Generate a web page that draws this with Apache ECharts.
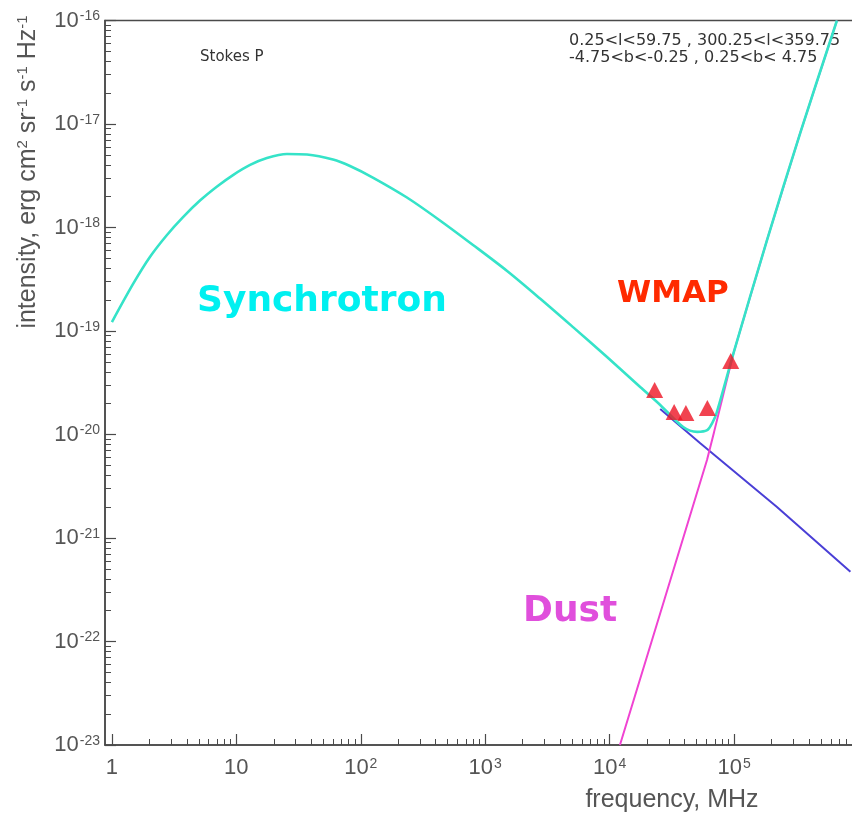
<!DOCTYPE html>
<html>
<head>
<meta charset="utf-8">
<script src="https://cdn.jsdelivr.net/npm/echarts@6/dist/echarts.min.js"></script>
<style>
  html, body { margin: 0; padding: 0; background: #ffffff; }
  #chart { width: 852px; height: 819px; }
</style>
</head>
<body>
<div id="chart"></div>
<script>
// Polarized (Stokes P) spectrum, frequency in MHz, intensity in erg cm^-2 sr^-1 s^-1 Hz^-1

// Total model: synchrotron + dust
const totalFreq = [1, 1.48, 2.02, 2.77, 3.73, 5.1, 7.0, 9.4, 12.9, 17.6, 25.5, 37, 59.8, 81.9,
  125, 235, 433, 798, 1500, 2757, 5080, 9530, 1.76e4, 2.55e4, 3.9e4, 5.05e4, 6.08e4, 6.67e4,
  7.23e4, 9.9e4, 1.84e5, 3.4e5, 6.71e5];
const totalInt = [1.22e-19, 2.85e-19, 5.19e-19, 8.47e-19, 1.26e-18, 1.82e-18, 2.49e-18, 3.21e-18,
  4.02e-18, 4.69e-18, 5.13e-18, 5.07e-18, 4.54e-18, 3.93e-18, 3.04e-18, 1.95e-18, 1.17e-18,
  6.78e-19, 3.80e-19, 2.06e-19, 1.09e-19, 5.61e-20, 2.88e-20, 1.93e-20, 1.18e-20, 1.06e-20,
  1.10e-20, 1.29e-20, 1.61e-20, 6.12e-20, 7.57e-19, 8.18e-18, 1.0e-16];

// Synchrotron power law above ~20 GHz
const syncFreq = [2.55e4, 5.35e4, 2.2e5, 8.61e5];
const syncInt = [1.76e-20, 8.22e-21, 2.0e-21, 4.72e-22];

// Thermal dust
const dustFreq = [1.21e4, 2.78e4, 6.06e4, 6.91e4, 9.9e4, 1.84e5, 3.4e5, 6.71e5];
const dustInt = [1.0e-23, 2.63e-22, 5.68e-21, 1.06e-20, 6.12e-20, 7.57e-19, 8.18e-18, 1.0e-16];

// WMAP band measurements (23, 33, 41, 61, 94 GHz)
const wmapFreq = [2.3e4, 3.3e4, 4.1e4, 6.1e4, 9.4e4];
const wmapInt = [2.69e-20, 1.65e-20, 1.61e-20, 1.80e-20, 5.13e-20];

// Axis ticks and labels
const xMajor = [1, 10, 100, 1e3, 1e4, 1e5, 1e6];
const xLabelValues = [1, 10, 100, 1e3, 1e4, 1e5];
const yMajor = [1e-23, 1e-22, 1e-21, 1e-20, 1e-19, 1e-18, 1e-17, 1e-16];

function minorTicks(majors) {
  const out = [];
  for (let i = 0; i < majors.length; i++) {
    for (let m = 2; m <= 9; m++) out.push(majors[i] * m);
  }
  return out;
}
function pairs(xs, ys) { return xs.map((x, i) => [x, ys[i]]); }

const axisGray = '#4a4a4a';
const textGray = '#555555';
const labelFont = 'Liberation Sans';

const labelRich = {
  b: { fontSize: 22, color: textGray, fontFamily: labelFont },
  s: { fontSize: 14, color: textGray, fontFamily: labelFont, verticalAlign: 'top', padding: [0, 0, 0, 1] }
};

function xLabel(v) {
  const e = Math.round(Math.log10(v));
  if (e === 0) return '{b|1}';
  if (e === 1) return '{b|10}';
  return '{b|10}{s|' + e + '}';
}
function yLabel(v) {
  const e = Math.round(Math.log10(v));
  return '{b|10}{s|' + e + '}';
}

const X_MIN = 0.88, X_MAX = 1e6, Y_MIN = 1e-23, Y_MAX = 1e-16;

const chart = echarts.init(document.getElementById('chart'), null, { renderer: 'canvas' });

const option = {
  backgroundColor: '#ffffff',
  animation: false,
  grid: {
    left: 105, top: 20.5, width: 753.5, height: 724.5,
    show: true, borderColor: axisGray, borderWidth: 1.5,
    containLabel: false, outerBoundsMode: 'none'
  },
  xAxis: [
    {
      type: 'log', logBase: 10, min: X_MIN, max: X_MAX, position: 'bottom',
      axisLine: { show: true, lineStyle: { color: axisGray, width: 1.5 } },
      axisTick: { show: true, inside: true, length: 11, customValues: xMajor, lineStyle: { color: axisGray, width: 1.2 } },
      axisLabel: { show: true, customValues: xLabelValues, margin: 12, formatter: xLabel, rich: labelRich },
      splitLine: { show: false }, minorTick: { show: false }
    },
    {
      type: 'log', logBase: 10, min: X_MIN, max: X_MAX, position: 'bottom',
      axisLine: { show: false },
      axisTick: { show: true, inside: true, length: 6, customValues: minorTicks([1, 10, 100, 1e3, 1e4, 1e5]), lineStyle: { color: axisGray, width: 1 } },
      axisLabel: { show: false },
      splitLine: { show: false }
    }
  ],
  yAxis: [
    {
      type: 'log', logBase: 10, min: Y_MIN, max: Y_MAX, position: 'left',
      axisLine: { show: true, lineStyle: { color: axisGray, width: 1.5 } },
      axisTick: { show: true, inside: true, length: 11, customValues: yMajor, lineStyle: { color: axisGray, width: 1.2 } },
      axisLabel: { show: true, customValues: yMajor, margin: 5, formatter: yLabel, rich: labelRich },
      splitLine: { show: false }
    },
    {
      type: 'log', logBase: 10, min: Y_MIN, max: Y_MAX, position: 'left',
      axisLine: { show: false },
      axisTick: { show: true, inside: true, length: 6, customValues: minorTicks(yMajor.slice(0, 7)), lineStyle: { color: axisGray, width: 1 } },
      axisLabel: { show: false },
      splitLine: { show: false }
    }
  ],
  graphic: [
    {
      type: 'text', left: 200, top: 50,
      style: { text: 'Stokes P', font: '15px "DejaVu Sans"', fill: '#333333' }
    },
    {
      type: 'text', left: 569, top: 32,
      style: {
        text: '0.25<l<59.75 , 300.25<l<359.75\n-4.75<b<-0.25 , 0.25<b< 4.75',
        font: '16px "DejaVu Sans"', fill: '#333333', lineHeight: 17
      }
    },
    {
      type: 'text', left: 197, top: 284,
      style: { text: 'Synchrotron', font: 'bold 36px "DejaVu Sans"', fill: '#00f0f0' }
    },
    {
      type: 'text', left: 617, top: 278,
      style: { text: 'WMAP', font: 'bold 31px "DejaVu Sans"', fill: '#ff2a00' }
    },
    {
      type: 'text', left: 523, top: 594,
      style: { text: 'Dust', font: 'bold 36px "DejaVu Sans"', fill: '#e04fdc' }
    },
    {
      type: 'text', x: 672, y: 800,
      style: {
        text: 'frequency, MHz', font: '25px "Liberation Sans"', fill: textGray,
        align: 'center', verticalAlign: 'middle'
      }
    },
    {
      type: 'text', x: 28, y: 172, rotation: Math.PI / 2,
      style: {
        text: '{a|intensity, erg cm}{s|2}{a| sr}{s|-1}{a| s}{s|-1}{a| Hz}{s|-1}',
        align: 'center', verticalAlign: 'middle',
        rich: {
          a: { fontSize: 25, fontFamily: labelFont, fill: textGray },
          s: { fontSize: 15, fontFamily: labelFont, fill: textGray, verticalAlign: 'top' }
        }
      }
    }
  ],
  series: [
    {
      name: 'Synchrotron component', type: 'line', xAxisIndex: 0, yAxisIndex: 0,
      data: pairs(syncFreq, syncInt), showSymbol: false,
      lineStyle: { color: '#4a3fd6', width: 2 }, z: 2
    },
    {
      name: 'Dust', type: 'line', xAxisIndex: 0, yAxisIndex: 0,
      data: pairs(dustFreq, dustInt), showSymbol: false,
      lineStyle: { color: '#f043d2', width: 2 }, z: 2
    },
    {
      name: 'Total', type: 'line', xAxisIndex: 0, yAxisIndex: 0,
      data: pairs(totalFreq, totalInt), showSymbol: false, smooth: 0.3,
      lineStyle: { color: '#35e3c8', width: 2.6 }, z: 3
    },
    {
      name: 'WMAP', type: 'scatter', xAxisIndex: 0, yAxisIndex: 0,
      data: pairs(wmapFreq, wmapInt), symbol: 'triangle', symbolSize: [17, 16],
      itemStyle: { color: '#ee1424' }, z: 4
    }
  ]
};

chart.setOption(option);
</script>
</body>
</html>
